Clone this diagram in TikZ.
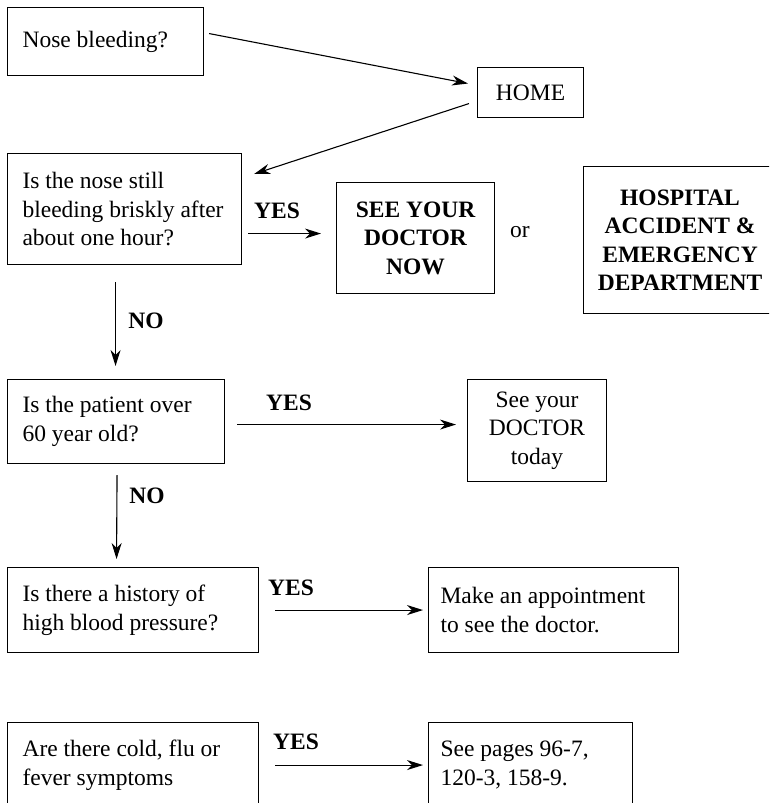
\documentclass[tikz,border=0pt]{standalone}
\usepackage{fontspec}
\setmainfont{Liberation Serif}
\usetikzlibrary{arrows.meta}
\newcommand\fixw[2]{\makebox[#1][l]{#2}}
\begin{document}
\begin{tikzpicture}[x=1pt,y=-1pt,
  box/.style={draw, line width=1.1pt, anchor=north west, inner ysep=0pt, inner xsep=15pt,
    font=\fontsize{23.5}{28.5}\selectfont, align=left},
  cbox/.style={box, inner xsep=4pt, align=center},
  lbl/.style={font=\fontsize{23.5}{28.5}\selectfont\bfseries, inner sep=0pt},
  plain/.style={font=\fontsize{23.5}{28.5}\selectfont, inner sep=0pt},
  arr/.style={line width=1.1pt, -{Stealth[length=16pt,width=10pt,inset=5pt]}}]
\useasboundingbox (0,0) rectangle (769,803);
\clip (0,0) rectangle (769,803);
% boxes
\node[box, minimum height=68pt] (nose) at (7,7) {\fixw{166pt}{Nose bleeding?}};
\node[cbox, minimum width=106pt, minimum height=50pt] (home) at (477,67) {HOME};
\node[box, minimum height=111pt] (still) at (7,153) {\fixw{204pt}{Is the nose still}\\bleeding briskly after\\about one hour?};
\node[cbox, minimum width=158pt, minimum height=111pt, font=\fontsize{23.5}{28.5}\selectfont\bfseries] (seenow) at (336,182) {SEE YOUR\\DOCTOR\\NOW};
\node[plain] (or) at (520,232) {or};
\node[cbox, minimum width=193pt, minimum height=147pt, font=\fontsize{23.5}{28.5}\selectfont\bfseries] (hosp) at (583,166) {HOSPITAL\\ACCIDENT \&\\EMERGENCY\\DEPARTMENT};
\node[box, minimum height=84pt] (over) at (7,379) {\fixw{187pt}{Is the patient over}\\60 year old?};
\node[cbox, minimum width=139pt, minimum height=102pt] (today) at (467,379) {See your\\DOCTOR\\today};
\node[box, minimum height=85pt] (hbp) at (7,567) {\fixw{221pt}{Is there a history of}\\high blood pressure?};
\node[box, inner xsep=12pt, minimum height=85pt] (appt) at (428,567) {\fixw{226pt}{Make an appointment}\\to see the doctor.};
\node[box, minimum height=85pt] (cold) at (7,722) {\fixw{221pt}{Are there cold, flu or}\\fever symptoms};
\node[box, inner xsep=12pt, minimum height=85pt] (pages) at (428,722) {\fixw{180pt}{See pages 96-7,}\\120-3, 158-9.};
% labels
\node[lbl] (yes1) at (277,211) {YES};
\node[lbl] (no1) at (146,321) {NO};
\node[lbl] (yes2) at (289,403) {YES};
\node[lbl] (no2) at (147,496) {NO};
\node[lbl] (yes3) at (291,588) {YES};
\node[lbl] (yes4) at (296,742) {YES};
% connectors
\draw[arr] ([xshift=5pt,yshift=8pt]nose.east) -- ([xshift=-9pt,yshift=9pt]home.west);
\draw[arr] ([xshift=-8pt,yshift=-11pt]home.west) -- ([xshift=12pt,yshift=-21pt]still.north east);
\draw[arr] ([xshift=6pt,yshift=-24.5pt]still.east) -- ([xshift=-15pt,yshift=4.5pt]seenow.west);
\draw[arr] ([xshift=-9pt,yshift=-17pt]still.south) -- ([xshift=-0.5pt,yshift=13pt]over.north);
\draw[arr] ([xshift=12pt,yshift=-3pt]over.east) -- ([xshift=-11pt,yshift=6pt]today.west);
\draw[arr] ([xshift=1pt,yshift=-11pt]over.south) -- ([xshift=-16.5pt,yshift=8pt]hbp.north);
\draw[arr] ([xshift=16pt]hbp.east) -- ([xshift=-5pt]appt.west);
\draw[arr] ([xshift=16pt]cold.east) -- ([xshift=-5pt]cold.east -| pages.west);
\end{tikzpicture}
\end{document}
